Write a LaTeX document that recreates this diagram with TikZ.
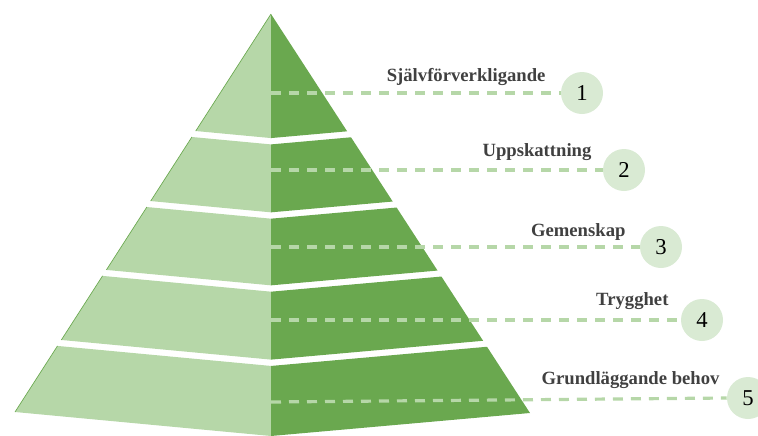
\documentclass[tikz,border=0pt]{standalone}
\usepackage{fontspec}
\setmainfont{Liberation Serif}
\usetikzlibrary{calc}

\definecolor{pyrlight}{HTML}{B6D7A8}
\definecolor{pyrdark}{HTML}{6AA84F}
\definecolor{numfill}{HTML}{D9EAD3}
\definecolor{lblgray}{HTML}{404040}

\tikzset{
  guide/.style={pyrlight, line width=2.4pt, dash pattern=on 7.5pt off 6pt},
  numcircle/.style={circle, fill=numfill, minimum size=31.5pt, inner sep=0pt,
    font=\fontsize{17}{17}\selectfont},
  levellabel/.style={anchor=base east, inner sep=0pt, text=lblgray,
    font=\fontsize{14}{14}\selectfont\bfseries}
}

\begin{document}
\begin{tikzpicture}[x=0.75pt, y=-0.75pt]

\useasboundingbox (0,0) rectangle (758,436);
\clip (0,0) rectangle (758,436);

% Corners of the pyramid
\coordinate (A) at (271,14);
\coordinate (L) at (15,412);
\coordinate (F) at (271,436);
\coordinate (R) at (530,413);

% Layers, cut between top and bottom fraction
\foreach \ta/\tb in {0/0.294, 0.309/0.470, 0.485/0.643, 0.658/0.819, 0.834/1} {
  \fill[pyrlight] ($(A)!\ta!(L)$) -- ($(A)!\tb!(L)$) -- ($(A)!\tb!(F)$) -- ($(A)!\ta!(F)$) -- cycle;
  \fill[pyrdark] ($(A)!\ta!(F)$) -- ($(A)!\tb!(F)$) -- ($(A)!\tb!(R)$) -- ($(A)!\ta!(R)$) -- cycle;
  \draw[pyrdark, line width=0.5pt] ($(A)!\ta!(L)$) -- ($(A)!\tb!(L)$);
}

% Number circles
\node[numcircle] (n1) at (582,93)  {1};
\node[numcircle] (n2) at (624,170) {2};
\node[numcircle] (n3) at (661,247) {3};
\node[numcircle] (n4) at (702,320) {4};
\node[numcircle] (n5) at (748,398) {5};

% Start of the guide lines
\coordinate (d1) at (271,93);
\coordinate (d2) at (271,170);
\coordinate (d3) at (271,247);
\coordinate (d4) at (271,320);
\coordinate (d5) at (271,402);

\draw[guide] (d1) -- (n1.west);
\draw[guide] (d2) -- (n2.west);
\draw[guide] (d3) -- (n3.west);
\draw[guide] (d4) -- (n4.west);
\draw[guide] (d5) -- (n5.west);

% Labels
\node[levellabel] (l1) at ($(n1.west)+(-15,-12)$) {Självförverkligande};
\node[levellabel] (l2) at ($(n2.west)+(-11,-14)$) {Uppskattning};
\node[levellabel] (l3) at ($(n3.west)+(-14,-11)$) {Gemenskap};
\node[levellabel] (l4) at ($(n4.west)+(-12,-15)$) {Trygghet};
\node[levellabel] (l5) at ($(n5.west)+(-7,-14)$)  {Grundläggande behov};

\end{tikzpicture}
\end{document}
